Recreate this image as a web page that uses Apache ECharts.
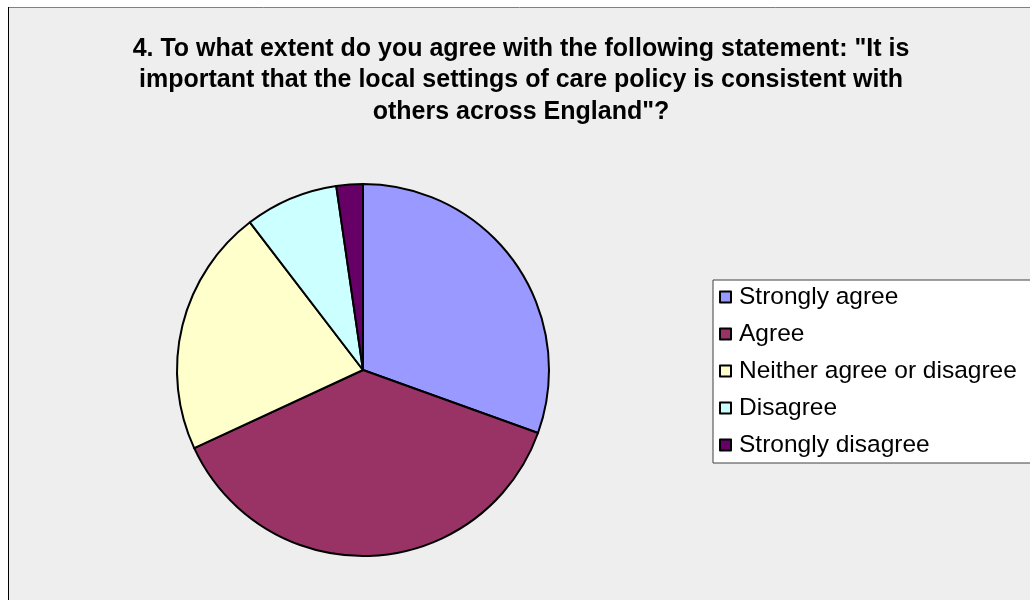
<!DOCTYPE html>
<html>
<head>
<meta charset="utf-8">
<script src="https://cdn.jsdelivr.net/npm/echarts@6/dist/echarts.min.js"></script>
<style>
  html, body { margin: 0; padding: 0; background: #ffffff; }
  #chart { width: 1030px; height: 600px; }
</style>
</head>
<body>
<div id="chart"></div>
<script>
// Survey responses (share of respondents, %)
const categories = ['Strongly agree', 'Agree', 'Neither agree or disagree', 'Disagree', 'Strongly disagree'];
const values = [30.5, 37.6, 21.5, 8.1, 2.3];
const colors = ['#9999FF', '#993366', '#FFFFCC', '#CCFFFF', '#660066'];
const titleLines = [
  '4. To what extent do you agree with the following statement: "It is',
  'important that the local settings of care policy is consistent with',
  'others across England"?'
];

const chart = echarts.init(document.getElementById('chart'), null, { renderer: 'canvas' });

chart.setOption({
  backgroundColor: '#ffffff',
  animation: false,
  graphic: [
    // chart area panel
    { type: 'rect', z: -10, shape: { x: 8, y: 7, width: 1100, height: 700 },
      style: { fill: '#EEEEEE', stroke: null } },
    { type: 'line', z: -5, shape: { x1: 8, y1: 7.5, x2: 1100, y2: 7.5 },
      style: { stroke: '#808080', lineWidth: 1 } },
    { type: 'line', z: -5, shape: { x1: 8.5, y1: 7, x2: 8.5, y2: 700 },
      style: { stroke: '#000000', lineWidth: 1 } },
    { type: 'text', x: 521, y: 33, z: 10,
      style: {
        text: titleLines.join('\n'),
        align: 'center', verticalAlign: 'top',
        font: 'bold 25px "Liberation Sans", Arial, sans-serif',
        lineHeight: 31.5, fill: '#000000'
      } }
  ],
  legend: {
    orient: 'vertical',
    left: 713, top: 280,
    backgroundColor: '#ffffff',
    borderColor: '#404040', borderWidth: 1, borderRadius: 0,
    padding: [4, 40, 5, 6],
    itemWidth: 11, itemHeight: 11, itemGap: 11,
    icon: 'rect',
    selectedMode: false,
    itemStyle: { borderColor: '#000000', borderWidth: 2 },
    textStyle: {
      fontFamily: '"Liberation Sans", Arial, sans-serif',
      fontSize: 24.5, lineHeight: 26, color: '#000000',
      padding: [0, 0, 0, 3]
    },
    data: categories
  },
  series: [{
    type: 'pie',
    center: [363, 370],
    radius: 186,
    startAngle: 90,
    clockwise: true,
    label: { show: false },
    labelLine: { show: false },
    emphasis: { disabled: true },
    itemStyle: { borderColor: '#000000', borderWidth: 2 },
    data: categories.map((name, i) => ({
      name, value: values[i], itemStyle: { color: colors[i] }
    }))
  }]
});
</script>
</body>
</html>
